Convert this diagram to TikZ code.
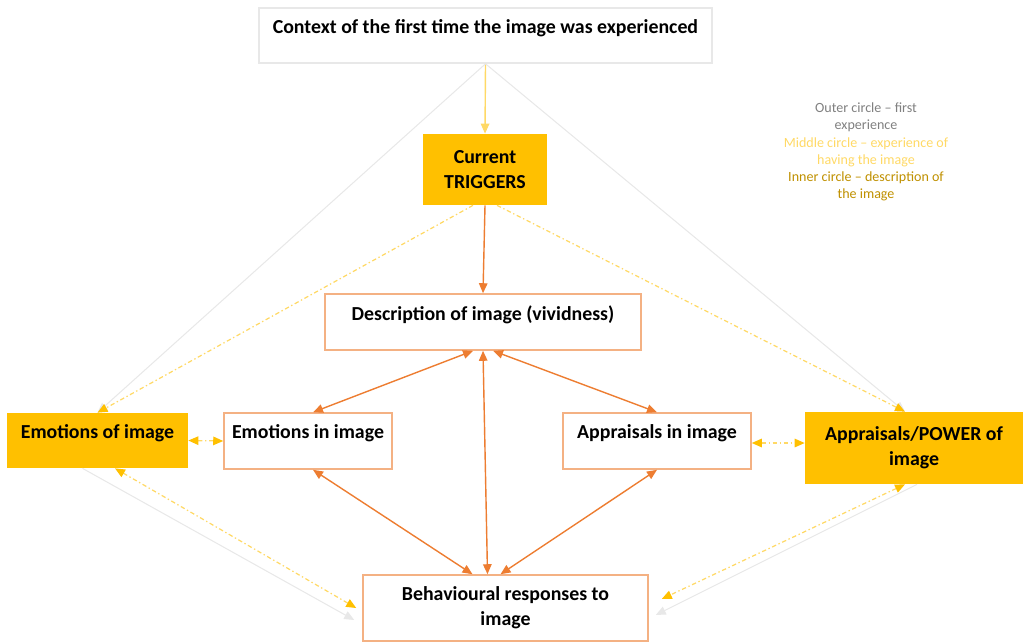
\documentclass[tikz,border=0pt]{standalone}
\usepackage{fontspec}
\setmainfont{Carlito}
\usetikzlibrary{arrows.meta}

\definecolor{amber}{HTML}{FFC000}
\definecolor{paleamber}{HTML}{FFD966}
\definecolor{darkamber}{HTML}{BF9000}
\definecolor{boxorange}{HTML}{F4B183}
\definecolor{linkorange}{HTML}{ED7D31}
\definecolor{palegrey}{HTML}{E8E8E8}
\definecolor{legendgrey}{HTML}{808080}

\begin{document}
\begin{tikzpicture}[x=0.02cm,y=-0.02cm,
        font=\fontsize{11.3}{14.2}\selectfont\bfseries,
        box/.style={draw=boxorange,line width=0.9pt,align=center,inner sep=0pt},
        topbox/.style={box,text depth=0.36cm},
        filled/.style={fill=amber,align=center,inner sep=0pt},
        orangelink/.style={linkorange,line width=0.8pt,{Triangle[length=0.2cm,width=0.17cm]}-{Triangle[length=0.2cm,width=0.17cm]}},
        dotlink/.style={paleamber,line width=0.7pt,dash pattern=on 2.5pt off 1.5pt on 0.8pt off 1.5pt,
            {Triangle[length=0.2cm,width=0.17cm,fill=amber,color=amber]}-{Triangle[length=0.2cm,width=0.17cm,fill=amber,color=amber]}},
        greylink/.style={palegrey,line width=0.6pt,-{Triangle[length=0.2cm,width=0.17cm]}}]

        \useasboundingbox (0,0) rectangle (1023,643);

        \node[topbox,draw=palegrey,minimum width=9.06cm,minimum height=1.1cm] (context) at (485.5,35.5)
            {Context of the first time the image was experienced};
        \node[filled,minimum width=2.48cm,minimum height=1.42cm] (triggers) at (485,169.5) {Current\\TRIGGERS};
        \node[topbox,minimum width=6.32cm,minimum height=1.12cm] (vividness) at (483,322) {Description of image (vividness)};

        \node[topbox,minimum width=3.36cm,minimum height=1.12cm] (emoin) at (308,441) {Emotions in image};
        \node[topbox,minimum width=3.76cm,minimum height=1.12cm] (apprin) at (657,441) {Appraisals in image};
        \node[filled,text depth=0.36cm,minimum width=3.62cm,minimum height=1.1cm] (emoof) at (97.5,440.5) {Emotions of image};
        \node[filled,minimum width=4.36cm,minimum height=1.44cm] (approf) at (914,448) {Appraisals/POWER of\\image};

        \node[box,minimum width=5.7cm,minimum height=1.32cm] (responses) at (505.5,608) {Behavioural responses to\\image};

        \node[font=\fontsize{8}{9.8}\selectfont,align=center] (legend) at (866,152)
            {\textcolor{legendgrey}{Outer circle -- first}\\\textcolor{legendgrey}{experience}\\
             \textcolor{paleamber}{Middle circle -- experience of}\\\textcolor{paleamber}{having the image}\\
             \textcolor{darkamber}{Inner circle -- description of}\\\textcolor{darkamber}{the image}};

        \draw[paleamber,line width=0.8pt,-{Triangle[length=0.2cm,width=0.17cm]}] (context.south) -- (triggers.north);
        \draw[greylink] (context.south) -- (emoof.north);
        \draw[greylink] (context.south) -- ([xshift=-0.18cm]approf.north);
        \draw[greylink] ([xshift=-0.3cm]emoof.south) -- ([xshift=-0.16cm,yshift=-0.24cm]responses.west);
        \draw[greylink] ([xshift=0.06cm]approf.south) -- ([xshift=0.14cm,yshift=-0.14cm]responses.east);

        \draw[linkorange,line width=0.8pt,-{Triangle[length=0.2cm,width=0.17cm]}] (triggers.south) -- (vividness.north);
        \draw[dotlink,-{Triangle[length=0.2cm,width=0.17cm,fill=amber,color=amber]}] ([xshift=-0.24cm]triggers.south) -- (emoof.north);
        \draw[dotlink,-{Triangle[length=0.2cm,width=0.17cm,fill=amber,color=amber]}] ([xshift=0.24cm]triggers.south) -- ([xshift=-0.18cm]approf.north);

        \draw[orangelink] ([xshift=-0.2cm]vividness.south) -- ([xshift=0.1cm]emoin.north);
        \draw[orangelink] ([xshift=0.2cm]vividness.south) -- (apprin.north);
        \draw[orangelink] (vividness.south) -- ([xshift=-0.36cm]responses.north);
        \draw[orangelink] ([xshift=0.1cm]emoin.south) -- ([xshift=-0.66cm]responses.north);
        \draw[orangelink] (apprin.south) -- ([xshift=-0.1cm]responses.north);

        \draw[dotlink] (emoof.east) -- (emoin.west);
        \draw[dotlink] ([yshift=-0.04cm]apprin.east) -- ([yshift=-0.04cm]apprin.east -| approf.west);
        \draw[dotlink] ([xshift=0.35cm]emoof.south) -- ([xshift=-0.12cm]responses.west);
        \draw[dotlink] ([xshift=-0.18cm]approf.south) -- ([xshift=0.26cm,yshift=0.18cm]responses.east);
\end{tikzpicture}
\end{document}
